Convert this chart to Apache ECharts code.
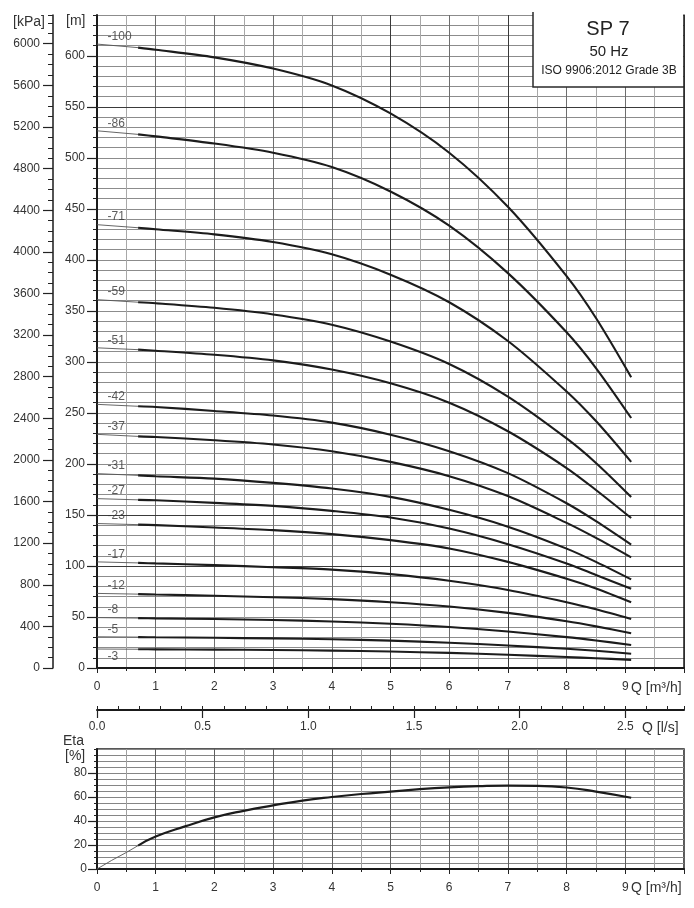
<!DOCTYPE html>
<html><head><meta charset="utf-8">
<script src="https://cdn.jsdelivr.net/npm/echarts@6/dist/echarts.min.js"></script>
<style>html,body{margin:0;padding:0;background:#fff}#c{width:694px;height:908px}</style>
</head><body><div id="c"></div>
<script>
// ---- data ----
const qHead = [0, 0.7, 1, 2, 3, 4, 5, 6, 7, 8, 8.5, 9.1];          // Q [m3/h]
const curveLabels = ['-100','-86','-71','-59','-51','-42','-37','-31','-27','-23','-17','-12','-8','-5','-3'];
const head100 = [611.5, 608, 606, 598.5, 587.5, 571, 543.5, 505, 452, 384, 343, 285];
const head86  = [526.5, 523, 521, 514, 505, 491, 467, 433.5, 387, 329, 294, 245];
const head71  = [434.5, 431.5, 430, 425, 417.5, 405.5, 385.5, 358.5, 320.5, 271, 242, 202];
const head59  = [361, 358.5, 357.5, 353, 346.5, 336.5, 320, 298, 266, 225, 201, 167.6];
const head51  = [313.8, 312, 311, 307, 301.5, 292.5, 279, 260, 232, 196, 174.5, 147];
const head42  = [258.4, 256.5, 255.8, 251.9, 247.4, 240.5, 228.7, 212.5, 191, 161.5, 144, 121];
const head37  = [229, 227, 226.4, 223.2, 219, 212.4, 202, 188, 168.5, 142.2, 127.5, 108.5];
const head31  = [190.5, 188.8, 187.9, 185.6, 181.4, 175.9, 167.7, 155, 138.5, 117, 104, 86.8];
const head27  = [166, 164.8, 164.4, 161.8, 158.9, 154, 147.5, 136.7, 121.4, 102.5, 91.2, 77.6];
const head23  = [141.6, 140.5, 140, 137.7, 135.1, 131.2, 125.3, 117.2, 104, 87.5, 78, 64.5];
const head17  = [104, 103, 102.5, 100.8, 98.8, 96.4, 92, 85.5, 76.5, 64.5, 57.5, 48];
const head12  = [73.1, 72.4, 72, 70.8, 69.4, 67.5, 64.5, 60.2, 54, 45.8, 40.8, 34];
const head8   = [49.4, 48.9, 48.6, 48, 47.1, 45.6, 43.3, 40.2, 35.8, 30.3, 27, 22.6];
const head5   = [30.6, 30.3, 30.1, 29.6, 29, 28.2, 26.8, 24.8, 22, 18.8, 16.9, 14];
const head3   = [18.6, 18.4, 18.3, 18, 17.6, 17, 16.1, 14.8, 13, 10.8, 9.6, 8];
const headCurves = [head100, head86, head71, head59, head51, head42, head37, head31, head27, head23, head17, head12, head8, head5, head3];

const qEta = [0, 0.25, 0.5, 0.7, 1, 1.5, 2, 2.5, 3, 3.5, 4, 4.5, 5, 5.5, 6, 6.5, 7, 7.5, 8, 8.5, 9.1];
const etaValues = [0, 7.2, 13.8, 19.5, 27, 35.5, 43, 48.5, 53, 57, 60, 62.5, 64.5, 66.5, 68, 69, 69.5, 69.3, 67.9, 64.5, 59.4];

const qTickLabels = [0, 1, 2, 3, 4, 5, 6, 7, 8, 9];
const lsTickLabels = [0, 0.5, 1, 1.5, 2, 2.5];
const mTickLabels = [0, 50, 100, 150, 200, 250, 300, 350, 400, 450, 500, 550, 600];
const kpaTickLabels = [0, 400, 800, 1200, 1600, 2000, 2400, 2800, 3200, 3600, 4000, 4400, 4800, 5200, 5600, 6000];
const etaTickLabels = [0, 20, 40, 60, 80];
const darkHeadLines = [550, 150, 100];
const darkQLines = [5, 7];

// ---- chart ----
const FONT = '"Liberation Sans", Arial, sans-serif';
const LBL = { fontFamily: FONT, fontSize: 12, color: '#333' };
const M_MAX = 640, KPA_PER_M = 9.80665, Q_MAX = 10;
const plain = v => String(Math.round(v * 10) / 10);

const chart = echarts.init(document.getElementById('c'), null, { renderer: 'canvas' });

const series = [];
headCurves.forEach((h, i) => {
  series.push({
    type: 'line', xAxisIndex: 0, yAxisIndex: 0, silent: true, showSymbol: false,
    data: qHead.slice(0, 2).map((q, j) => [q, h[j]]),
    lineStyle: { width: 0.9, color: '#555' }, z: 5
  });
  series.push({
    type: 'line', xAxisIndex: 0, yAxisIndex: 0, silent: true, showSymbol: false,
    smooth: 0.3,
    data: qHead.slice(1).map((q, j) => [q, h[j + 1]]),
    lineStyle: { width: 2.1, color: '#1c1c1c' }, z: 6
  });
});
series.push({
  type: 'scatter', xAxisIndex: 0, yAxisIndex: 0, silent: true, symbolSize: 0, z: 7,
  data: headCurves.map((h, i) => ({
    value: [0.18, h[0]],
    label: { offset: i === headCurves.length - 1 ? [0, 8] : [0, -7.5] }
  })),
  label: { show: true, position: 'right', distance: 0, formatter: p => curveLabels[p.dataIndex], ...LBL }
});
series.push({
  type: 'line', xAxisIndex: 0, yAxisIndex: 0, silent: true, data: [], z: 2,
  markLine: {
    silent: true, symbol: 'none', animation: false, label: { show: false },
    lineStyle: { color: '#3a3a3a', width: 1, type: 'solid' },
    data: darkHeadLines.map(v => ({ yAxis: v })).concat(darkQLines.map(v => ({ xAxis: v })))
  }
});
series.push({
  type: 'line', xAxisIndex: 3, yAxisIndex: 6, silent: true, showSymbol: false,
  data: qEta.slice(0, 4).map((q, j) => [q, etaValues[j]]),
  lineStyle: { width: 0.9, color: '#555' }, z: 5
});
series.push({
  type: 'line', xAxisIndex: 3, yAxisIndex: 6, silent: true, showSymbol: false,
  smooth: 0.5,
  data: qEta.slice(3).map((q, j) => [q, etaValues[j + 3]]),
  lineStyle: { width: 2.2, color: '#1c1c1c' }, z: 6
});

const axLine = w => ({ show: true, onZero: false, lineStyle: { color: '#1a1a1a', width: w } });
const tick = (len, inside) => ({ show: true, length: len, inside: !!inside, lineStyle: { color: '#222', width: 1 } });

const option = {
  animation: false,
  backgroundColor: '#fff',
  grid: [
    { left: 97, right: 10, top: 15, bottom: 240 },
    { left: 97, right: 10, top: 700, height: 10 },
    { left: 97, right: 10, top: 749, bottom: 39, show: true, borderColor: '#222', borderWidth: 1.5 }
  ],
  xAxis: [
    { type: 'value', gridIndex: 0, min: 0, max: Q_MAX, interval: 1,
      axisLine: axLine(2), axisTick: tick(5), minorTick: { show: true, splitNumber: 2, length: 3, lineStyle: { color: '#222' } },
      splitLine: { show: true, lineStyle: { color: '#6e6e6e', width: 1 } },
      minorSplitLine: { show: true, lineStyle: { color: '#a8a8a8', width: 1 } },
      axisLabel: { customValues: qTickLabels, margin: 13, formatter: plain, ...LBL } },
    { type: 'value', gridIndex: 1, min: 0, max: Q_MAX / 3.6, interval: 0.1,
      axisLine: axLine(2), axisTick: tick(4, true), splitLine: { show: false },
      axisLabel: { customValues: lsTickLabels, margin: 11, formatter: v => v.toFixed(1), ...LBL } },
    { type: 'value', gridIndex: 1, min: 0, max: Q_MAX / 3.6,
      axisLine: { show: false }, axisTick: { show: true, inside: true, length: 8, customValues: lsTickLabels, lineStyle: { color: '#222', width: 1.2 } },
      splitLine: { show: false }, axisLabel: { show: false } },
    { type: 'value', gridIndex: 2, min: 0, max: Q_MAX, interval: 1,
      axisLine: axLine(2), axisTick: tick(5), minorTick: { show: true, splitNumber: 2, length: 3, lineStyle: { color: '#222' } },
      splitLine: { show: true, lineStyle: { color: '#5e5e5e', width: 1 } },
      minorSplitLine: { show: true, lineStyle: { color: '#a0a0a0', width: 1 } },
      axisLabel: { customValues: qTickLabels, margin: 13, formatter: plain, ...LBL } }
  ],
  yAxis: [
    { type: 'value', gridIndex: 0, position: 'left', min: 0, max: M_MAX, interval: 10,
      axisLine: axLine(2), axisTick: tick(4),
      splitLine: { show: true, lineStyle: { color: '#8c8c8c', width: 1 } },
      axisLabel: { customValues: mTickLabels, margin: 12, formatter: plain, ...LBL } },
    { type: 'value', gridIndex: 0, position: 'left', min: 0, max: M_MAX,
      axisLine: { show: false }, axisTick: { show: true, length: 10, customValues: mTickLabels, lineStyle: { color: '#222', width: 1.2 } },
      splitLine: { show: false }, axisLabel: { show: false } },
    { type: 'value', gridIndex: 0, position: 'left', offset: 44, min: 0, max: M_MAX * KPA_PER_M, interval: 100,
      axisLine: axLine(1.5), axisTick: tick(5), splitLine: { show: false },
      axisLabel: { customValues: kpaTickLabels, margin: 13, formatter: plain, ...LBL } },
    { type: 'value', gridIndex: 0, position: 'left', offset: 44, min: 0, max: M_MAX * KPA_PER_M,
      axisLine: { show: false }, axisTick: { show: true, length: 10, customValues: kpaTickLabels, lineStyle: { color: '#222', width: 1.2 } },
      splitLine: { show: false }, axisLabel: { show: false } },
    { type: 'value', gridIndex: 0, position: 'right', min: 0, max: M_MAX,
      axisLine: axLine(1.5), axisTick: { show: false }, splitLine: { show: false }, axisLabel: { show: false } },
    { type: 'value', gridIndex: 1, show: false, min: 0, max: 1 },
    { type: 'value', gridIndex: 2, position: 'left', min: 0, max: 100, interval: 5,
      axisLine: axLine(2), axisTick: tick(3),
      splitLine: { show: true, lineStyle: { color: '#858585', width: 1 } },
      axisLabel: { customValues: etaTickLabels, margin: 10, formatter: plain, ...LBL } },
    { type: 'value', gridIndex: 2, position: 'left', min: 0, max: 100,
      axisLine: { show: false }, axisTick: { show: true, length: 9, customValues: etaTickLabels, lineStyle: { color: '#222', width: 1.2 } },
      splitLine: { show: false }, axisLabel: { show: false } }
  ],
  graphic: [
    { type: 'rect', z: 100, shape: { x: 533, y: 12, width: 150, height: 75 }, style: { fill: '#fff' } },
    { type: 'polyline', z: 101, shape: { points: [[533, 12], [533, 87], [684, 87]] }, style: { stroke: '#2a2a2a', lineWidth: 1.5, fill: null } },
    { type: 'text', z: 102, style: { text: 'SP 7', x: 608, y: 29, align: 'center', verticalAlign: 'middle', font: '20px ' + FONT, fill: '#222' } },
    { type: 'text', z: 102, style: { text: '50 Hz', x: 609, y: 52, align: 'center', verticalAlign: 'middle', font: '15px ' + FONT, fill: '#222' } },
    { type: 'text', z: 102, style: { text: 'ISO 9906:2012 Grade 3B', x: 609, y: 71, align: 'center', verticalAlign: 'middle', font: '12px ' + FONT, fill: '#222' } },
    { type: 'text', z: 102, style: { text: '[kPa]', x: 13, y: 22, verticalAlign: 'middle', font: '14px ' + FONT, fill: '#333' } },
    { type: 'text', z: 102, style: { text: '[m]', x: 66, y: 21, verticalAlign: 'middle', font: '14px ' + FONT, fill: '#333' } },
    { type: 'text', z: 102, style: { text: 'Q [m³/h]', x: 631, y: 688, verticalAlign: 'middle', font: '14px ' + FONT, fill: '#333' } },
    { type: 'text', z: 102, style: { text: 'Q [l/s]', x: 642, y: 728, verticalAlign: 'middle', font: '14px ' + FONT, fill: '#333' } },
    { type: 'text', z: 102, style: { text: 'Eta', x: 63, y: 741, verticalAlign: 'middle', font: '14px ' + FONT, fill: '#333' } },
    { type: 'text', z: 102, style: { text: '[%]', x: 65, y: 756, verticalAlign: 'middle', font: '14px ' + FONT, fill: '#333' } },
    { type: 'text', z: 102, style: { text: 'Q [m³/h]', x: 631, y: 888, verticalAlign: 'middle', font: '14px ' + FONT, fill: '#333' } }
  ],
  series: series
};
chart.setOption(option);
</script>
</body></html>
